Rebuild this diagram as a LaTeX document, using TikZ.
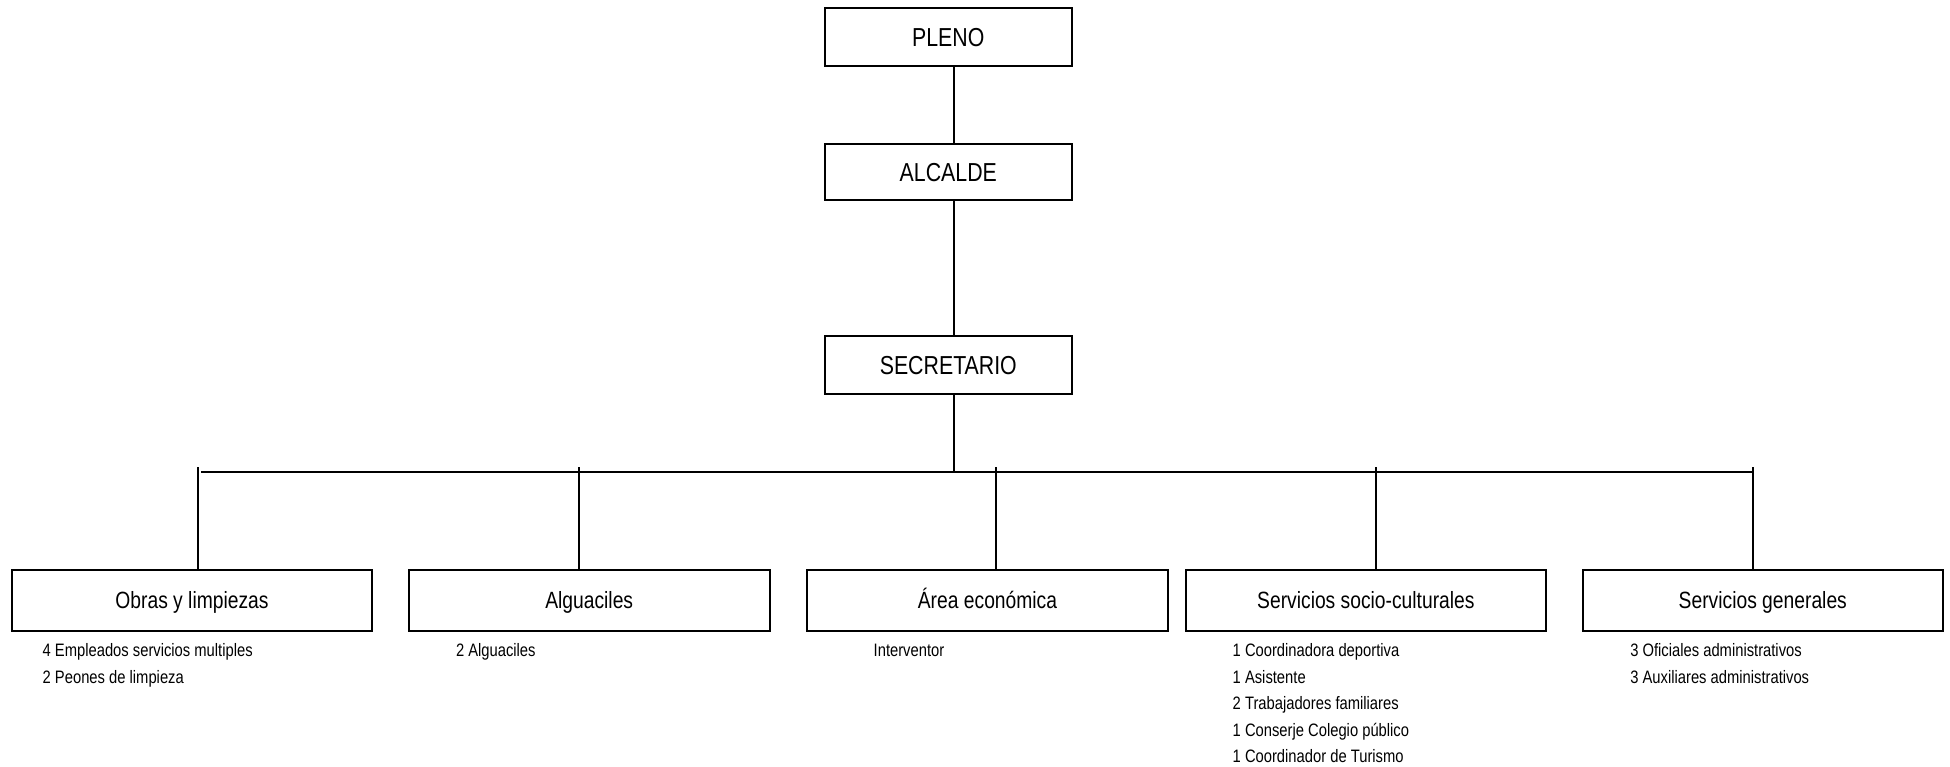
\documentclass[tikz,border=0pt]{standalone}
\usepackage{fontspec}
\setmainfont[FakeStretch=0.82]{Liberation Sans}
\begin{document}
\begin{tikzpicture}[x=1pt,y=-1pt, line width=2pt,
  topbox/.style={draw, minimum width=246.7pt, inner sep=0pt,
    font=\fontsize{26}{30}\selectfont, text height=18.6pt, text depth=0pt},
  unitbox/.style={draw, minimum width=360.6pt, minimum height=60.5pt, inner sep=0pt,
    font=\fontsize{23.5}{28}\selectfont, text height=16.8pt, text depth=0pt},
  item/.style={anchor=base west, inner sep=0pt, font=\fontsize{18}{20}\selectfont}]
\useasboundingbox (0,0) rectangle (1950,766);

% top chain
\node[topbox, minimum height=58pt] (pleno) at (948.3,36.7) {PLENO};
\node[topbox, minimum height=55.7pt] (alcalde) at (948.3,172.2) {ALCALDE};
\node[topbox, minimum height=58pt] (secretario) at (948.3,365) {SECRETARIO};
\coordinate (spine) at (953.7,0);
\draw (pleno.south -| spine) -- (alcalde.north -| spine);
\draw (alcalde.south -| spine) -- (secretario.north -| spine);

% units
\node[unitbox] (obras) at (192,600.3) {Obras y limpiezas};
\node[unitbox] (alg) at (589.2,600.3) {Alguaciles};
\node[unitbox] (area) at (987.5,600.3) {Área económica};
\node[unitbox] (ssc) at (1365.9,600.3) {Servicios socio-culturales};
\node[unitbox] (sg) at (1762.8,600.3) {Servicios generales};

% bus
\coordinate (busL) at (201,472.3);
\coordinate (busR) at (1753.3,472.3);
\draw (busL) -- (busR);
\draw (secretario.south -| spine) -- (spine |- busL);

\coordinate (d1) at (197.7,467);
\coordinate (d2) at (579.3,467);
\coordinate (d3) at (995.7,467);
\coordinate (d4) at (1375.7,467);
\coordinate (d5) at (1753.3,467);
\draw (d1) -- (d1 |- obras.north);
\draw (d2) -- (d2 |- alg.north);
\draw (d3) -- (d3 |- area.north);
\draw (d4) -- (d4 |- ssc.north);
\draw (d5) -- (d5 |- sg.north);

% lists
\node[item] (o1) at (41.7,656.5) {4 Empleados servicios multiples};
\node[item] (o2) at (41.7,683) {2 Peones de limpieza};
\node[item] (a1) at (455,656.5) {2 Alguaciles};
\node[item] (e1) at (872.7,656.5) {Interventor};
\node[item] (s1) at (1231.7,656.5) {1 Coordinadora deportiva};
\node[item] (s2) at (1231.7,683) {1 Asistente};
\node[item] (s3) at (1231.7,709.5) {2 Trabajadores familiares};
\node[item] (s4) at (1231.7,736) {1 Conserje Colegio público};
\node[item] (s5) at (1231.7,762.5) {1 Coordinador de Turismo};
\node[item] (g1) at (1629.3,656.5) {3 Oficiales administrativos};
\node[item] (g2) at (1629.3,683) {3 Auxiliares administrativos};
\end{tikzpicture}
\end{document}
